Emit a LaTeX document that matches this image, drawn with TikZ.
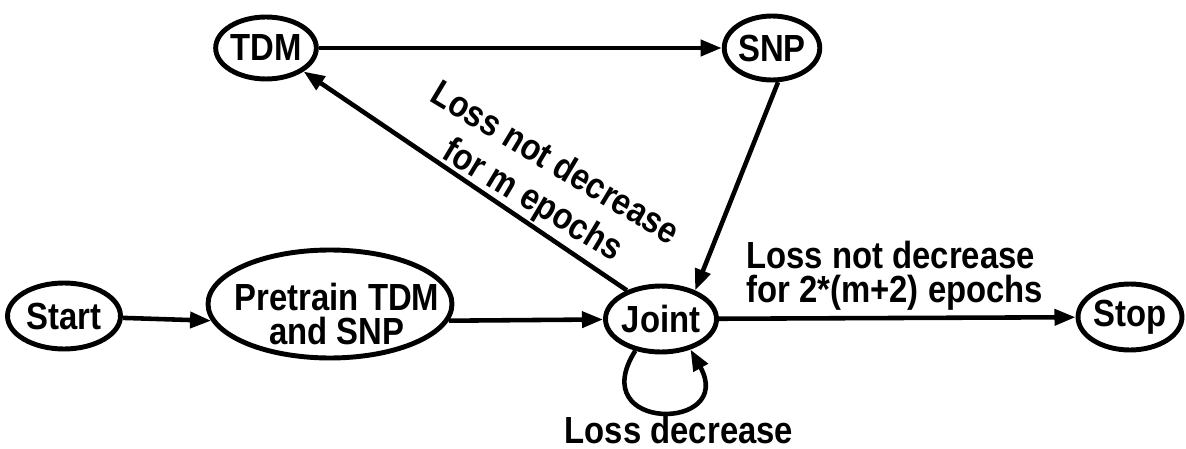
\documentclass[tikz,border=0pt]{standalone}
\usepackage{fontspec}
\setmainfont{Liberation Sans}[FakeStretch=0.87]
\usetikzlibrary{arrows.meta,shapes.geometric}
\tikzset{
  state/.style={ellipse, draw, line width=2.8pt, inner sep=0pt, align=center,
    font=\fontsize{21.5}{19.2}\selectfont\bfseries},
  edge/.style={line width=2.6pt, -{Triangle[length=12pt,width=9pt]}},
  lbl/.style={inner sep=0pt, font=\fontsize{21.5}{19}\selectfont\bfseries}
}
\begin{document}
\begin{tikzpicture}[x=0.02cm,y=-0.02cm]
\useasboundingbox (0,0) rectangle (1186,449);
% states
\node[state, minimum width=2.26cm, minimum height=1.32cm] (start) at (64,316) {Start};
\node[state, minimum width=4.88cm, minimum height=2.16cm] (pre) at (330,304) {};
\node[lbl, align=center, font=\fontsize{21.5}{19.2}\selectfont\bfseries] (pretext) at (337,314) {Pretrain TDM\\and SNP};
\node[state, minimum width=2.12cm, minimum height=1.32cm] (joint) at (661,319) {Joint};
\node[state, minimum width=2.08cm, minimum height=1.32cm] (stop) at (1130,317) {Stop};
\node[state, minimum width=1.84cm, minimum height=1.24cm] (tdm) at (266,48) {TDM};
\node[state, minimum width=1.8cm, minimum height=1.28cm] (snp) at (772,48) {SNP};
% transitions
\draw[edge] (start) -- (pre.188);
\draw[edge] (pre.-8) -- (joint);
\draw[edge] (joint) -- (stop);
\draw[edge] (tdm) -- (snp);
\draw[edge] (snp.280) -- (joint.40);
\draw[edge] (joint.140) -- (tdm.-32);
% self-loop under Joint
\draw[edge] (joint.231) .. controls +(-52,82) and +(46,82) .. (joint.314);
% labels
\node[lbl, align=center, rotate=-31, font=\fontsize{21}{24.5}\selectfont\bfseries] (lm) at (543,183) {Loss not decrease\\for m epochs};
\node[lbl, align=left, anchor=north west] (l2) at (746,241) {Loss not decrease\\for 2*(m+2) epochs};
\node[lbl, anchor=base] (ld) at (679,443) {Loss decrease};
\end{tikzpicture}
\end{document}
